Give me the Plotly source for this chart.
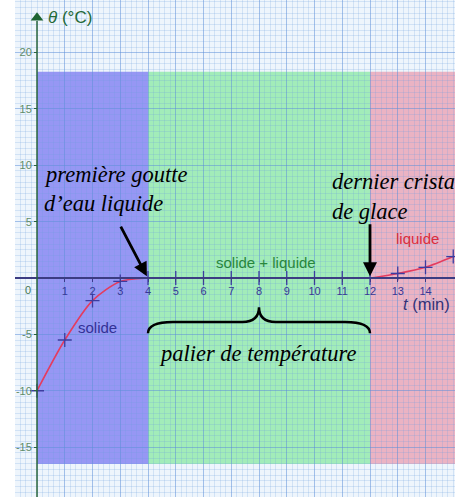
import plotly.graph_objects as go

# ---- data ----
times = [0, 1, 2, 3, 4, 5, 6, 7, 8, 9, 10, 11, 12, 13, 14, 15]
temps = [-10, -5.5, -2.0, -0.3, 0, 0, 0, 0, 0, 0, 0, 0, 0, 0.4, 0.95, 1.9]
x_ticks = [1, 2, 3, 4, 5, 6, 7, 8, 9, 10, 11, 12, 13, 14]
y_ticks = [-15, -10, -5, 5, 10, 15, 20]
phase_bounds = [0, 4, 12, 15.1]          # solide | solide+liquide | liquide
phase_colors = ["rgba(130,130,242,0.82)", "rgba(145,234,170,0.82)", "rgba(234,165,182,0.82)"]
band_y = [-16.5, 18.3]
x_range = [-0.793, 15.063]
y_range = [-19.43, 24.67]

fig = go.Figure()

# red curve
fig.add_trace(go.Scatter(x=times, y=temps, mode="lines",
                         line=dict(color="rgb(228,60,95)", width=1.6, shape="spline", smoothing=0.8),
                         hoverinfo="skip", showlegend=False))
# crosses
fig.add_trace(go.Scatter(x=times, y=temps, mode="markers",
                         marker=dict(symbol="cross-thin", size=10, line=dict(color="rgb(60,60,160)", width=1.3)),
                         showlegend=False))
# arrow tip of the y axis
fig.add_trace(go.Scatter(x=[0], y=[23.1], mode="markers",
                         marker=dict(symbol="triangle-up", size=11, color="rgb(30,100,50)"), showlegend=False))

shapes = []
for i in range(3):
    shapes.append(dict(type="rect", xref="x", yref="y", x0=phase_bounds[i], x1=phase_bounds[i + 1],
                       y0=band_y[0], y1=band_y[1], fillcolor=phase_colors[i], line=dict(width=0), layer="below"))
# y axis line
shapes.append(dict(type="line", xref="x", yref="y", x0=0, x1=0, y0=y_range[0], y1=22.8,
                   line=dict(color="rgb(40,100,60)", width=1.5)))

# curly brace between phase bounds 4 and 12
b0, b1 = phase_bounds[1], phase_bounds[2]
bm = (b0 + b1) / 2
yt, yh, ye = -2.6, -3.9, -4.9
brace = (f"M {b0},{ye} Q {b0},{yh} {b0+0.9},{yh} L {bm-0.6},{yh} Q {bm},{yh} {bm},{yt} "
         f"Q {bm},{yh} {bm+0.6},{yh} L {b1-0.9},{yh} Q {b1},{yh} {b1},{ye}")
shapes.append(dict(type="path", xref="x", yref="y", path=brace, line=dict(color="black", width=2.5)))

serif = "Liberation Serif"
SZ = 22.5
ann = [
    dict(x=0.18, y=9.2, text="<i>première goutte</i>", xanchor="left", yanchor="middle",
         font=dict(family=serif, size=SZ, color="black"), showarrow=False),
    dict(x=0.18, y=6.6, text="<i>d’eau liquide</i>", xanchor="left", yanchor="middle",
         font=dict(family=serif, size=SZ, color="black"), showarrow=False),
    dict(x=10.55, y=8.55, text="<i>dernier cristal</i>", xanchor="left", yanchor="middle",
         font=dict(family=serif, size=SZ, color="black"), showarrow=False),
    dict(x=10.55, y=5.9, text="<i>de glace</i>", xanchor="left", yanchor="middle",
         font=dict(family=serif, size=SZ, color="black"), showarrow=False),
    dict(x=7.95, y=-6.7, text="<i>palier de température</i>", xanchor="center", yanchor="middle",
         font=dict(family=serif, size=SZ, color="black"), showarrow=False),
    # arrows
    dict(x=3.96, y=0.15, ax=2.99, ay=4.7, xref="x", yref="y", axref="x", ayref="y", text="",
         showarrow=True, arrowhead=2, arrowsize=1.0, arrowwidth=2.8, arrowcolor="black"),
    dict(x=12, y=0.15, ax=12, ay=4.9, xref="x", yref="y", axref="x", ayref="y", text="",
         showarrow=True, arrowhead=2, arrowsize=1.0, arrowwidth=2.8, arrowcolor="black"),
    # phase labels
    dict(x=2.17, y=-4.4, text="solide", showarrow=False,
         font=dict(family="Liberation Sans", size=15, color="rgb(50,50,150)")),
    dict(x=8.25, y=1.35, text="solide + liquide", showarrow=False,
         font=dict(family="Liberation Sans", size=15, color="rgb(40,135,60)")),
    dict(x=13.7, y=3.55, text="liquide", showarrow=False,
         font=dict(family="Liberation Sans", size=15, color="rgb(220,45,60)")),
    # axis titles
    dict(x=0.32, y=23.1, text="<i>θ</i> (°C)", xanchor="left", yanchor="middle", showarrow=False,
         font=dict(family="Liberation Sans", size=17, color="rgb(35,105,55)")),
    dict(x=13.1, y=-2.3, text="<i>t</i> (min)", xanchor="left", yanchor="middle", showarrow=False,
         font=dict(family="Liberation Sans", size=16.5, color="rgb(50,50,120)")),
    # origin label
    dict(x=0, y=0, text="0", xanchor="center", yanchor="top", xshift=-9, yshift=-4, showarrow=False,
         font=dict(family="Liberation Sans", size=11, color="rgb(70,120,85)")),
]
for a in ann:
    a.setdefault("xref", "x")
    a.setdefault("yref", "y")

grid_major = "rgba(90,140,215,0.40)"
grid_minor = "rgba(110,160,225,0.22)"

fig.update_layout(
    width=455, height=497,
    margin=dict(l=15, r=0, t=0, b=0),
    paper_bgcolor="white",
    plot_bgcolor="rgb(238,245,252)",
    shapes=shapes,
    annotations=ann,
    showlegend=False,
    xaxis=dict(range=x_range, anchor="free", position=219 / 497,
               tickvals=x_ticks, ticktext=[str(v) for v in x_ticks],
               ticks="outside", ticklen=3, tickcolor="rgb(60,60,140)",
               tickfont=dict(family="Liberation Sans", size=11, color="rgb(55,55,150)"),
               showline=True, linecolor="rgb(60,60,130)", linewidth=1.5,
               showgrid=True, gridcolor=grid_major, gridwidth=1,
               minor=dict(dtick=0.2, showgrid=True, gridcolor=grid_minor, gridwidth=1),
               zeroline=False, fixedrange=True),
    yaxis=dict(range=y_range, anchor="free", position=22 / 440,
               tickvals=y_ticks, ticktext=[str(v) for v in y_ticks],
               ticks="outside", ticklen=3, tickcolor="rgb(40,100,60)",
               tickfont=dict(family="Liberation Sans", size=11, color="rgb(95,140,105)"),
               showline=False,
               showgrid=True, gridcolor=grid_major, gridwidth=1,
               minor=dict(dtick=0.5, showgrid=True, gridcolor=grid_minor, gridwidth=1),
               zeroline=False, fixedrange=True),
)

fig.write_html("out.html", config={"displayModeBar": False},
               post_script="document.body.style.margin='0';document.body.style.overflow='hidden';")
